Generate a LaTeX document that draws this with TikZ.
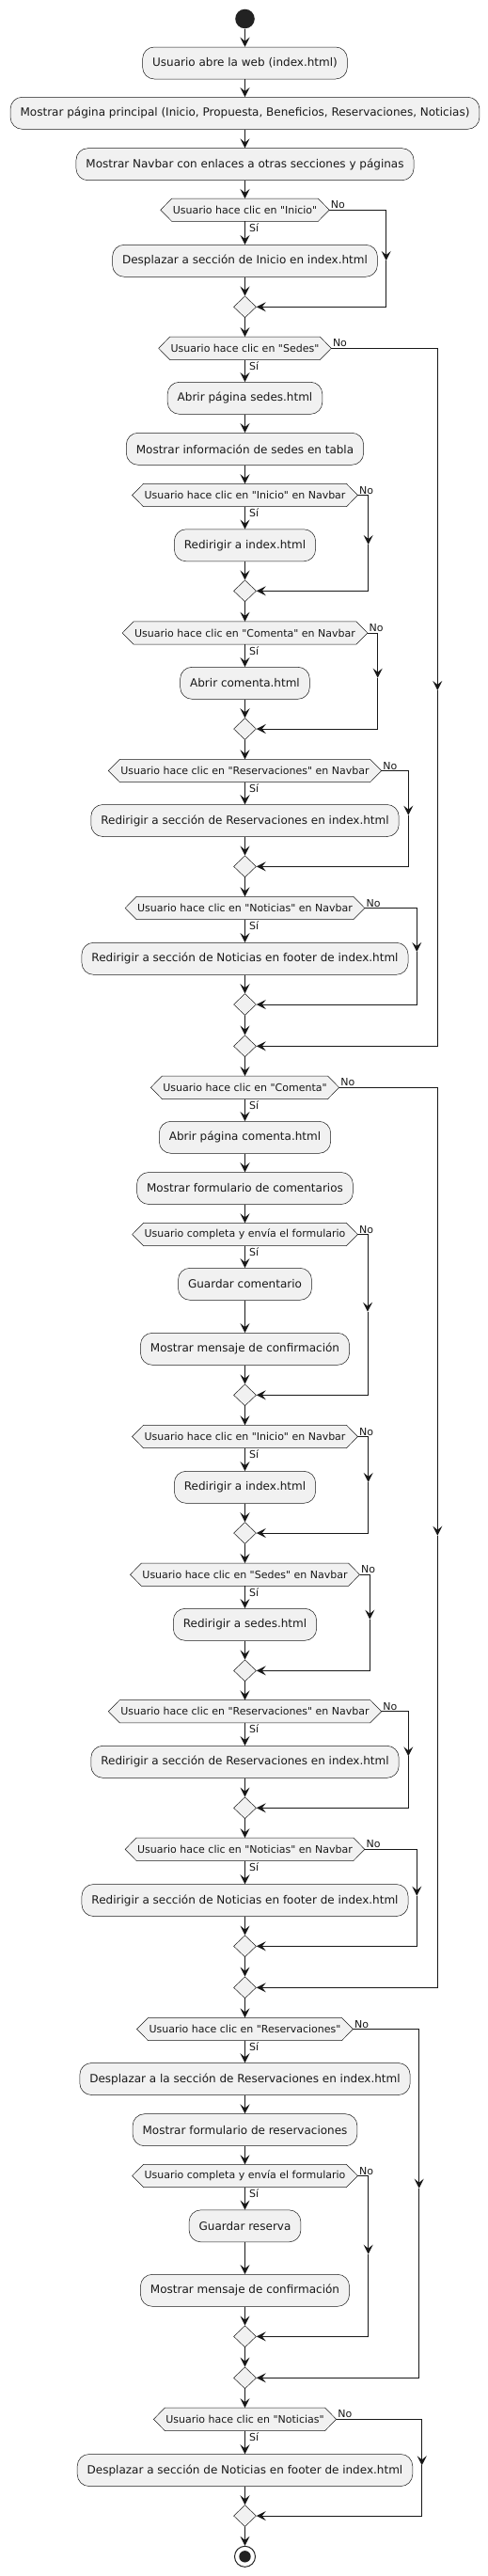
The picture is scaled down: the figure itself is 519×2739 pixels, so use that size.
\documentclass[tikz,border=0pt]{standalone}
\usepackage{fontspec}
\setmainfont{DejaVu Sans}[Ligatures=TeXOff]
\usetikzlibrary{shapes.geometric,arrows.meta,backgrounds}
\definecolor{bgf}{HTML}{F1F1F1}
\definecolor{lnc}{HTML}{181818}
\definecolor{dotc}{HTML}{222222}
\tikzset{
  actn/.style={draw=lnc, line width=0.5pt, fill=bgf, rounded corners=12.5pt, minimum height=34pt, inner xsep=10.5pt, inner ysep=0pt, font=\fontsize{12pt}{14pt}\selectfont, text=lnc},
  decn/.style={inner xsep=12.8pt, inner ysep=0pt, minimum height=24pt, font=\fontsize{11pt}{13pt}\selectfont, text=lnc},
  hexb/.style={draw=lnc, line width=0.5pt, fill=bgf},
  mergen/.style={diamond, draw=lnc, line width=0.5pt, fill=bgf, minimum width=24pt, minimum height=23pt, inner sep=0pt},
  lbl/.style={inner sep=0pt, font=\fontsize{11pt}{13pt}\selectfont, text=lnc},
  flow/.style={draw=lnc, line width=1pt, -{Stealth[length=10pt,width=10pt,inset=4pt]}}
}
\newcommand\actbox[3]{\node[actn] (#1) at (260.5,#2) {#3};}
\newcommand\mergebox[2]{\node[mergen] (#1) at (260.5,#2) {};}
\newcommand\decnode[3]{%
  \node[decn] (#1) at (260.5,#2) {#3};
  \begin{pgfonlayer}{background}
    \path[hexb] (#1.west) -- ([xshift=12pt]#1.north west) -- ([xshift=-12pt]#1.north east) -- (#1.east) -- ([xshift=-12pt]#1.south east) -- ([xshift=12pt]#1.south west) -- cycle;
  \end{pgfonlayer}
  \node[lbl, anchor=base west] (#1si) at ([xshift=4.5pt,yshift=-11pt]#1.south) {Sí};
  \node[lbl, anchor=base west] (#1no) at ([xshift=1.5pt,yshift=1.5pt]#1.east) {No};
}
\begin{document}
\begin{tikzpicture}[x=1pt,y=-1pt]
\useasboundingbox (0,0) rectangle (519,2739);
\node[circle, fill=dotc, minimum size=20.6pt, inner sep=0pt] (S) at (260.5,20) {};
\actbox{B1}{67}{Usuario abre la web (index.html)}
\actbox{B2}{120.3}{Mostrar página principal (Inicio, Propuesta, Beneficios, Reservaciones, Noticias)}
\actbox{B3}{174.7}{Mostrar Navbar con enlaces a otras secciones y páginas}
\decnode{D1}{223.2}{Usuario hace clic en "Inicio"}
\actbox{B4}{277.3}{Desplazar a sección de Inicio en index.html}
\mergebox{M1}{326.3}
\decnode{D2}{370.3}{Usuario hace clic en "Sedes"}
\actbox{B5}{423.3}{Abrir página sedes.html}
\actbox{B6}{477.3}{Mostrar información de sedes en tabla}
\decnode{D3}{526.5}{Usuario hace clic en "Inicio" en Navbar}
\actbox{B7}{579.8}{Redirigir a index.html}
\mergebox{M2}{628.3}
\decnode{D4}{673}{Usuario hace clic en "Comenta" en Navbar}
\actbox{B8}{726.3}{Abrir comenta.html}
\mergebox{M3}{775}
\decnode{D5}{819.5}{Usuario hace clic en "Reservaciones" en Navbar}
\actbox{B9}{872.5}{Redirigir a sección de Reservaciones en index.html}
\mergebox{M4}{921.3}
\decnode{D6}{965.5}{Usuario hace clic en "Noticias" en Navbar}
\actbox{B10}{1019.3}{Redirigir a sección de Noticias en footer de index.html}
\mergebox{M5}{1068}
\mergebox{M6}{1112.3}
\decnode{D7}{1156.3}{Usuario hace clic en "Comenta"}
\actbox{B11}{1209.3}{Abrir página comenta.html}
\actbox{B12}{1263.5}{Mostrar formulario de comentarios}
\decnode{D8}{1312.5}{Usuario completa y envía el formulario}
\actbox{B13}{1365.3}{Guardar comentario}
\actbox{B14}{1434.3}{Mostrar mensaje de confirmación}
\mergebox{M7}{1483.3}
\decnode{D9}{1527.5}{Usuario hace clic en "Inicio" en Navbar}
\actbox{B15}{1581.3}{Redirigir a index.html}
\mergebox{M8}{1630}
\decnode{D10}{1674.2}{Usuario hace clic en "Sedes" en Navbar}
\actbox{B16}{1727.3}{Redirigir a sedes.html}
\mergebox{M9}{1776.3}
\decnode{D11}{1819.7}{Usuario hace clic en "Reservaciones" en Navbar}
\actbox{B17}{1873.3}{Redirigir a sección de Reservaciones en index.html}
\mergebox{M10}{1922.3}
\decnode{D12}{1966.3}{Usuario hace clic en "Noticias" en Navbar}
\actbox{B18}{2020.5}{Redirigir a sección de Noticias en footer de index.html}
\mergebox{M11}{2069.3}
\mergebox{M12}{2113.3}
\decnode{D13}{2157.5}{Usuario hace clic en "Reservaciones"}
\actbox{B19}{2210.5}{Desplazar a la sección de Reservaciones en index.html}
\actbox{B20}{2264.7}{Mostrar formulario de reservaciones}
\decnode{D14}{2313.5}{Usuario completa y envía el formulario}
\actbox{B21}{2366.8}{Guardar reserva}
\actbox{B22}{2435.3}{Mostrar mensaje de confirmación}
\mergebox{M13}{2484.3}
\mergebox{M14}{2528.3}
\decnode{D15}{2572.3}{Usuario hace clic en "Noticias"}
\actbox{B23}{2626.5}{Desplazar a sección de Noticias en footer de index.html}
\mergebox{M15}{2675}
\node[circle, draw=dotc, line width=1pt, fill=white, minimum size=22pt, inner sep=0pt] (E) at (260.5,2718.3) {};
\node[circle, fill=dotc, minimum size=12.4pt, inner sep=0pt] (Ein) at (E.center) {};
\foreach \aa/\bb in {S/B1,B1/B2,B2/B3,B3/D1,D1/B4,B4/M1,M1/D2,D2/B5,B5/B6,B6/D3,D3/B7,B7/M2,M2/D4,D4/B8,B8/M3,M3/D5,D5/B9,B9/M4,M4/D6,D6/B10,B10/M5,M5/M6,M6/D7,D7/B11,B11/B12,B12/D8,D8/B13,B13/B14,B14/M7,M7/D9,D9/B15,B15/M8,M8/D10,D10/B16,B16/M9,M9/D11,D11/B17,B17/M10,M10/D12,D12/B18,B18/M11,M11/M12,M12/D13,D13/B19,B19/B20,B20/D14,D14/B21,B21/B22,B22/M13,M13/M14,M14/D15,D15/B23,B23/M15,M15/E}
  {\draw[flow] (\aa) -- (\bb);}
\foreach \dn/\mn/\xx/\yy in {D1/M1/410.7/277, D2/M6/465.3/734, D3/M2/391.7/579, D4/M3/401.7/720.7, D5/M4/434.3/866.7, D6/M5/443.3/1012, D7/M12/465.3/1632.7, D8/M7/391/1394.7, D9/M8/391.7/1576, D10/M9/393.3/1721.7, D11/M10/434.3/1867.3, D12/M11/443.3/2015.7, D13/M14/445.7/2326.7, D14/M13/391.7/2396.7, D15/M15/448.7/2621.3}
  {\coordinate (\dn a) at (\xx,\yy);
   \draw[flow] (\dn.east) -| (\dn a);
   \draw[flow] (\dn a) |- (\mn.east);}
\end{tikzpicture}
\end{document}
